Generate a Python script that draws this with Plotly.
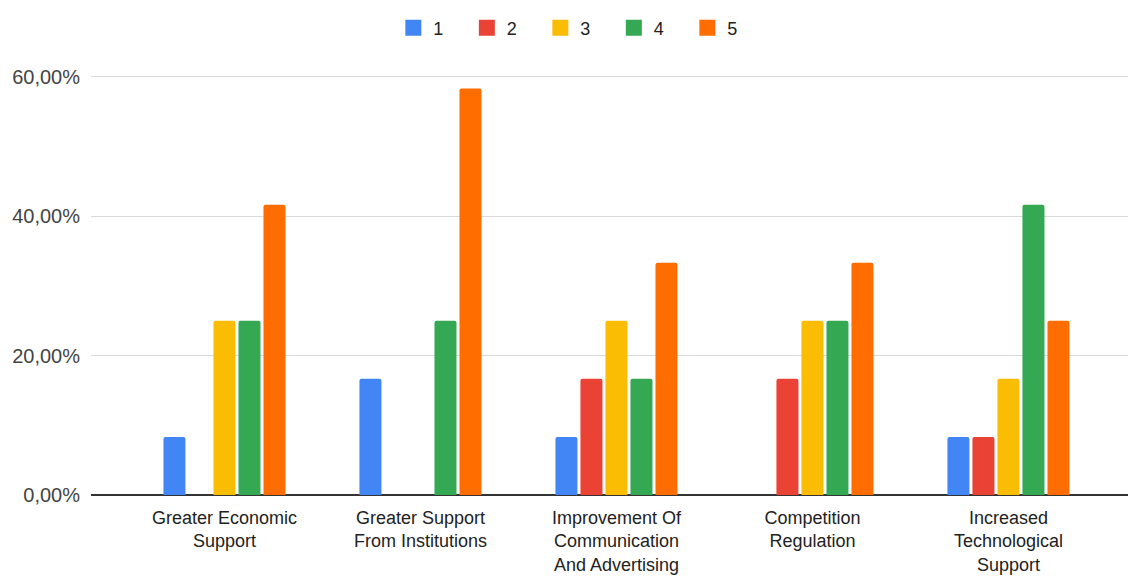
import plotly.graph_objects as go

categories = [
    "Greater Economic<br>Support",
    "Greater Support<br>From Institutions",
    "Improvement Of<br>Communication<br>And Advertising",
    "Competition<br>Regulation",
    "Increased<br>Technological<br>Support",
]
series_names = ["1", "2", "3", "4", "5"]
s1 = [8.33, 16.67, 8.33, 0, 8.33]
s2 = [0, 0, 16.67, 16.67, 8.33]
s3 = [25.0, 0, 25.0, 25.0, 16.67]
s4 = [25.0, 25.0, 16.67, 25.0, 41.67]
s5 = [41.67, 58.33, 33.33, 33.33, 25.0]
series_values = [s1, s2, s3, s4, s5]
colors = ["#4285F4", "#EA4335", "#FBBC04", "#34A853", "#FF6D01"]
tick_vals = [0, 20, 40, 60]
tick_text = ["0,00%", "20,00%", "40,00%", "60,00%"]

fig = go.Figure()
for name, vals, col in zip(series_names, series_values, colors):
    fig.add_trace(go.Bar(x=categories, y=vals, name=name, marker_color=col,
                         marker_line_width=0, showlegend=False, legendgroup=name))
for name, col in zip(series_names, colors):
    fig.add_trace(go.Scatter(x=[None], y=[None], mode="markers", name=name,
                             legendgroup=name,
                             marker=dict(symbol="square", size=22, color=col)))

fig.update_layout(
    width=1128, height=576,
    margin=dict(l=91, r=0, t=63, b=81, autoexpand=False),
    paper_bgcolor="white", plot_bgcolor="white",
    barmode="group", bargap=0.362, bargroupgap=0.12, barcornerradius=2,
    font=dict(family="Liberation Sans, Arial, sans-serif", size=18, color="#222"),
    legend=dict(orientation="h", x=0.469, xanchor="center", y=1.081, yanchor="middle",
                font=dict(size=18, color="#222"), entrywidth=28.5, entrywidthmode="pixels"),
    xaxis=dict(range=[-0.681, 4.61], showgrid=False, ticks="", automargin=False,
               ticklabelstandoff=10,
               tickfont=dict(size=18, color="#222"), showline=False),
    yaxis=dict(range=[0, 62], tickvals=tick_vals, ticktext=tick_text, automargin=False,
               showgrid=True, gridcolor="#d9d9d9", gridwidth=1,
               zeroline=True, zerolinecolor="#333", zerolinewidth=1.5,
               ticks="", ticklabelstandoff=10,
               tickfont=dict(size=20, color="#444")),
)
fig.write_html("out.html")
